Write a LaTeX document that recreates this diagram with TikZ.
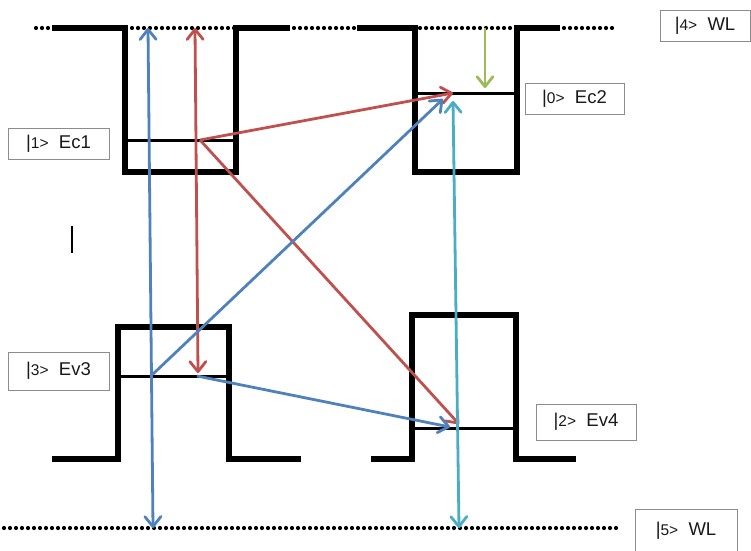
\documentclass[tikz,border=0pt]{standalone}
\usepackage{fontspec}
\setmainfont{Liberation Sans}
\usetikzlibrary{arrows.meta}
\definecolor{trblue}{HTML}{4F81BD}
\definecolor{trred}{HTML}{C0504D}
\definecolor{trcyan}{HTML}{4BACC6}
\definecolor{trgreen}{HTML}{9BBB59}
\definecolor{boxgray}{HTML}{8C8C8C}
% state label: bar, small index and closing angle, then the name
\newcommand\stlabel[2]{|{\fontsize{15.5}{15.5}\selectfont #1>}\ \ #2}
\begin{document}
\begin{tikzpicture}[x=1pt,y=-1pt,
  band/.style={line width=5.5pt, line join=miter},
  levelline/.style={line width=3pt},
  wetting/.style={line width=4.2pt, dash pattern=on 0pt off 6pt, line cap=round},
  tip/.tip={Straight Barb[length=10pt,width=16pt,line cap=round,line join=round]},
  trans/.style={line width=2.8pt, -tip},
  transboth/.style={line width=2.8pt, tip-tip},
  lbl/.style={draw=boxgray, line width=1pt, fill=white, inner sep=0pt,
    font=\fontsize{18.5}{18.5}\selectfont, text=black!90}]
\useasboundingbox (0,0) rectangle (751,550);

% wetting layer levels
\draw[wetting] (36,28) -- (617,28);
\draw[wetting] (4,528) -- (616,528);

% conduction band wells
\draw[band] (52,28) -- (125,28) -- (125,172) -- (236,172) -- (236,28) -- (290,28);
\draw[band] (357,28) -- (415,28) -- (415,172) -- (517,172) -- (517,28) -- (560,28);
\draw[levelline] (125,140) -- (236,140);
\draw[levelline] (415,93) -- (517,93);

% valence band barriers
\draw[band] (52,459) -- (118,459) -- (118,327) -- (229,327) -- (229,459) -- (301,459);
\draw[band] (371,459) -- (412,459) -- (412,315) -- (516,315) -- (516,459) -- (576,459);
\draw[levelline] (118,376) -- (229,376);
\draw[levelline] (412,428) -- (516,428);

% stray cursor bar
\draw[line width=2.2pt] (72,226) -- (72,253);

% end points of the transitions
\coordinate (wlA) at (148,28);
\coordinate (wlB) at (153,528);
\coordinate (wlC) at (195,28);
\coordinate (evA) at (198,373);
\coordinate (ecA) at (200,140);
\coordinate (ecB) at (453,93);
\coordinate (evB) at (459,424);
\coordinate (evC) at (153,374);
\coordinate (ecC) at (443,99);
\coordinate (evD) at (197,376);
\coordinate (evE) at (450,427);
\coordinate (ecD) at (453,101);
\coordinate (wlD) at (459,528);
\coordinate (wlE) at (485,28);
\coordinate (ecE) at (485,88);

% transitions
\draw[transboth, trblue] (wlA) -- (wlB);
\draw[transboth, trred] (wlC) -- (evA);
\draw[trans, trred] (ecA) -- (ecB);
\draw[trans, trred] (ecA) -- (evB);
\draw[trans, trblue] (evC) -- (ecC);
\draw[trans, trblue] (evD) -- (evE);
\draw[transboth, trcyan] (ecD) -- (wlD);
\draw[trans, trgreen] (wlE) -- (ecE);

% state labels
\node[lbl, minimum width=90, minimum height=31] (s4) at (705,25.5) {\stlabel{4}{WL}};
\node[lbl, minimum width=99, minimum height=31] (s0) at (574.5,98.5) {\stlabel{0}{Ec2}};
\node[lbl, minimum width=101, minimum height=31] (s1) at (58.5,143.5) {\stlabel{1}{Ec1}};
\node[lbl, minimum width=101, minimum height=38] (s3) at (58.5,371) {\stlabel{3}{Ev3}};
\node[lbl, minimum width=100, minimum height=36] (s2) at (586,422) {\stlabel{2}{Ev4}};
\node[lbl, minimum width=102, minimum height=44, anchor=north] (s5) at (686,509) {\raisebox{6pt}{\stlabel{5}{WL}}};
\end{tikzpicture}
\end{document}
